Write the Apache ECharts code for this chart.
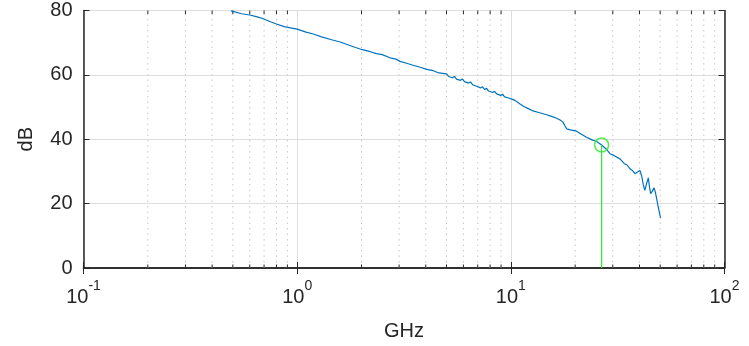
<!DOCTYPE html>
<html>
<head>
<meta charset="utf-8">
<script src="https://cdn.jsdelivr.net/npm/echarts@6/dist/echarts.min.js"></script>
<style>
	html,body{margin:0;padding:0;background:#fff}
	#chart{width:749px;height:346px}
</style>
</head>
<body>
<div id="chart"></div>
<script>
	// frequency (GHz) and magnitude (dB)
	var freq = [0.49, 0.55, 0.60, 0.65, 0.69, 0.75, 0.80, 0.87, 0.93, 1.00,
		1.10, 1.19, 1.30, 1.45, 1.59, 1.75, 2.00, 2.20, 2.35, 2.50,
		2.72, 2.90, 3.03, 3.25, 3.49, 3.80, 4.04, 4.34, 4.60,
		5.00, 5.11, 5.22, 5.33, 5.45, 5.57, 5.69, 5.81, 5.94, 6.07,
		6.20, 6.34, 6.48, 6.62, 6.76, 6.91, 7.06, 7.21, 7.37, 7.53,
		7.70, 7.87, 8.04, 8.21, 8.39, 8.58, 8.76, 8.95, 9.15, 9.35,
		9.55, 9.76, 9.97, 10.2, 10.5, 11.0, 11.5, 12.0, 12.7, 13.5,
		14.7, 15.5, 16.3, 17.0, 17.5, 17.9, 18.3, 19.0, 20.3, 21.3,
		22.6, 24.0, 25.2, 26.6, 28.0, 29.1, 30.5, 32.4, 34.0, 35.0,
		36.1, 37.2, 38.1, 39.2, 40.2, 41.0, 41.7, 42.4, 43.3, 44.0,
		44.6, 45.1, 45.9, 46.8, 47.5, 48.1, 49.0, 50.2];
	var mag = [79.9, 79.0, 78.6, 78.0, 77.5, 76.5, 75.8, 75.0, 74.6, 74.2,
		73.3, 72.7, 71.8, 70.9, 70.2, 69.2, 67.9, 67.2, 66.6, 66.3,
		65.3, 64.9, 64.2, 63.6, 63.0, 62.3, 61.7, 61.3, 60.6,
		60.3, 59.5, 59.9, 59.1, 59.5, 58.7, 59.1, 58.3, 58.7, 57.9,
		58.3, 57.45, 57.8, 56.95, 57.3, 56.45, 56.8, 55.95, 56.3, 55.45,
		55.8, 54.98, 55.35, 54.53, 54.9, 54.08, 54.45, 53.63, 54.0, 53.18,
		53.5, 52.8, 53.0, 52.4, 52.0, 51.0, 50.2, 49.6, 48.8, 48.3,
		47.6, 47.1, 46.6, 46.0, 45.4, 44.2, 43.2, 42.9, 42.5, 41.6,
		40.6, 39.8, 39.3, 38.2, 36.9, 35.5, 34.9, 33.9, 32.4, 32.0,
		30.8, 30.2, 29.3, 29.8, 30.3, 28.5, 25.8, 24.1, 26.5, 28.0,
		25.0, 23.1, 23.8, 24.9, 23.5, 21.6, 18.8, 15.6];

	// marked point
	var markerFreq = 26.6;
	var markerVal = 38.2;

	// minor grid positions on the log axis
	var minorTicks = [0.2, 0.3, 0.4, 0.5, 0.6, 0.7, 0.8, 0.9,
		2, 3, 4, 5, 6, 7, 8, 9,
		20, 30, 40, 50, 60, 70, 80, 90];

	var axisColor = '#262626';
	var font = 'Liberation Sans, Arial, sans-serif';

	var myChart = echarts.init(document.getElementById('chart'));

	var curve = freq.map(function (f, i) { return [f, mag[i]]; });

	var option = {
		animation: false,
		grid: {left: 83.5, right: 24.5, top: 10.5, bottom: 76},
		xAxis: [
			{
				type: 'log', logBase: 10, min: 0.1, max: 100,
				position: 'bottom',
				name: 'GHz', nameLocation: 'middle', nameGap: 53,
				nameTextStyle: {color: axisColor, fontSize: 20, fontFamily: font},
				axisLine: {lineStyle: {color: axisColor, width: 1.5}},
				axisTick: {inside: true, length: 6, lineStyle: {color: axisColor}},
				axisLabel: {
					margin: 11,
					formatter: function (v) {
						var e = Math.round(Math.log10(v));
						return '{b|10}{s|' + e + '}';
					},
					rich: {
						b: {fontSize: 20, lineHeight: 28, verticalAlign: 'bottom', color: axisColor, fontFamily: font},
						s: {fontSize: 14, lineHeight: 14, verticalAlign: 'top', color: axisColor, fontFamily: font}
					}
				},
				splitLine: {show: true, lineStyle: {color: '#dedede', width: 1}}
			},
			{
				type: 'log', logBase: 10, min: 0.1, max: 100,
				position: 'top',
				axisLine: {lineStyle: {color: axisColor, width: 1.5}},
				axisTick: {inside: true, length: 6, lineStyle: {color: axisColor}},
				axisLabel: {show: false},
				splitLine: {show: false}
			}
		],
		yAxis: [
			{
				type: 'value', min: 0, max: 80, interval: 20,
				position: 'left',
				name: 'dB', nameLocation: 'middle', nameGap: 47,
				nameTextStyle: {color: axisColor, fontSize: 20, fontFamily: font},
				axisLine: {show: true, lineStyle: {color: axisColor, width: 1.5}},
				axisTick: {inside: true, length: 6, lineStyle: {color: axisColor}},
				axisLabel: {margin: 11, fontSize: 20, color: axisColor, fontFamily: font},
				splitLine: {show: true, lineStyle: {color: '#dedede', width: 1}}
			},
			{
				type: 'value', min: 0, max: 80, interval: 20,
				position: 'right',
				axisLine: {show: true, lineStyle: {color: axisColor, width: 1.5}},
				axisTick: {inside: true, length: 6, lineStyle: {color: axisColor}},
				axisLabel: {show: false},
				splitLine: {show: false}
			}
		],
		series: [
			{
				// dotted minor grid + small minor ticks
				type: 'custom',
				xAxisIndex: 0, yAxisIndex: 0,
				silent: true, z: 1,
				data: minorTicks.map(function (v) { return [v, 0]; }),
				renderItem: function (params, api) {
					var v = api.value(0);
					var pb = api.coord([v, 0]);
					var pt = api.coord([v, 80]);
					return {
						type: 'group',
						children: [
							{type: 'line', shape: {x1: pb[0], y1: pb[1], x2: pt[0], y2: pt[1]},
								style: {stroke: '#c8c8c8', lineWidth: 1, lineDash: [1.5, 4]}},
							{type: 'line', shape: {x1: pb[0], y1: pb[1], x2: pb[0], y2: pb[1] - 3.5},
								style: {stroke: axisColor, lineWidth: 1}},
							{type: 'line', shape: {x1: pt[0], y1: pt[1], x2: pt[0], y2: pt[1] + 3.5},
								style: {stroke: axisColor, lineWidth: 1}}
						]
					};
				}
			},
			{
				type: 'line',
				data: curve,
				showSymbol: false,
				z: 3,
				lineStyle: {color: '#0072BD', width: 1.2},
				itemStyle: {color: '#0072BD'}
			},
			{
				type: 'line',
				data: [[markerFreq, 0], [markerFreq, markerVal]],
				showSymbol: false,
				z: 4,
				lineStyle: {color: '#2ee82e', width: 1.2}
			},
			{
				type: 'scatter',
				data: [[markerFreq, markerVal]],
				symbol: 'circle',
				symbolSize: 14,
				z: 5,
				itemStyle: {color: 'rgba(0,0,0,0)', borderColor: '#2ee82e', borderWidth: 1.6}
			}
		]
	};

	myChart.setOption(option);
</script>
</body>
</html>
